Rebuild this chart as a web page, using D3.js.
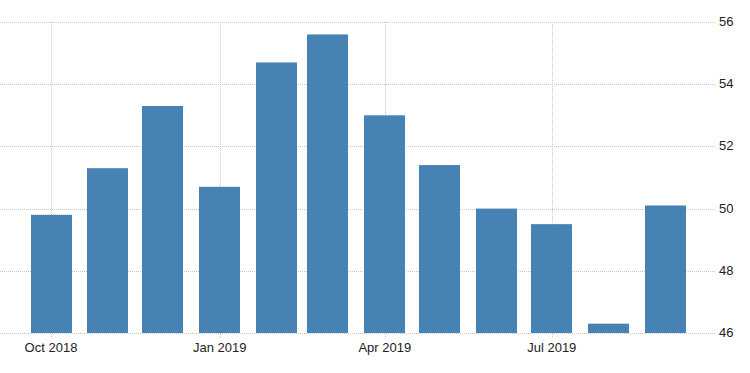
<!DOCTYPE html>
<html>
<meta charset="utf-8">
<title>Monthly bars</title>
<style>
  body { margin: 0; background: #fff; }
  svg text { font-family: "Liberation Sans", Arial, sans-serif; font-size: 13px; fill: #222; }
  .grid line { stroke: #c8c8c8; stroke-dasharray: 1,1; shape-rendering: crispEdges; }
  .bar { fill: #4682b4; }
</style>
<body>
<div id="chart"></div>
<script src="https://d3js.org/d3.v7.min.js"></script>
<script>
// monthly values, Oct 2018 - Sep 2019
var months = ["2018-10", "2018-11", "2018-12", "2019-01", "2019-02", "2019-03",
              "2019-04", "2019-05", "2019-06", "2019-07", "2019-08", "2019-09"];
var values = [49.8, 51.3, 53.3, 50.7, 54.7, 55.6, 53.0, 51.4, 50.0, 49.5, 46.3, 50.1];
var yTicks = [46, 48, 50, 52, 54, 56];
var xTicks = ["2018-10", "2019-01", "2019-04", "2019-07"];

var width = 750, height = 373;
var parse = d3.timeParse("%Y-%m");
var fmt = d3.timeFormat("%b %Y");

var data = months.map(function(m, i) { return {date: parse(m), value: values[i]}; });

// bars are centred on the first day of each month
var x = d3.scaleTime()
    .domain([parse("2018-10"), parse("2019-09")])
    .range([51, 665.5]);

var y = d3.scaleLinear()
    .domain([46, 56])
    .range([333, 22]);

var barW = 41;
var plotRight = 715;

var svg = d3.select("#chart").append("svg")
    .attr("width", width)
    .attr("height", height);

// horizontal grid
svg.append("g").attr("class", "grid")
  .selectAll("line")
  .data(yTicks)
  .enter().append("line")
    .attr("x1", 0)
    .attr("x2", plotRight)
    .attr("y1", function(d) { return Math.round(y(d)) + 0.5; })
    .attr("y2", function(d) { return Math.round(y(d)) + 0.5; });

// vertical grid
svg.append("g").attr("class", "grid")
  .selectAll("line")
  .data(xTicks)
  .enter().append("line")
    .attr("x1", function(d) { return Math.round(x(parse(d))) + 0.5; })
    .attr("x2", function(d) { return Math.round(x(parse(d))) + 0.5; })
    .attr("y1", y(56))
    .attr("y2", y(46) + 5);

svg.append("g")
  .selectAll("rect")
  .data(data)
  .enter().append("rect")
    .attr("class", "bar")
    .attr("x", function(d) { return Math.round(x(d.date) - barW / 2); })
    .attr("width", barW)
    .attr("y", function(d) { return y(d.value); })
    .attr("height", function(d) { return y(46) - y(d.value); });

// y labels on the right
svg.append("g")
  .selectAll("text")
  .data(yTicks)
  .enter().append("text")
    .attr("x", 719)
    .attr("y", function(d) { return y(d) + 4; })
    .text(function(d) { return d; });

// x labels, centred on their grid lines
svg.append("g")
  .selectAll("text")
  .data(xTicks)
  .enter().append("text")
    .attr("x", function(d) { return x(parse(d)); })
    .attr("y", 352)
    .attr("text-anchor", "middle")
    .text(function(d) { return fmt(parse(d)); });
</script>
</body>
</html>
